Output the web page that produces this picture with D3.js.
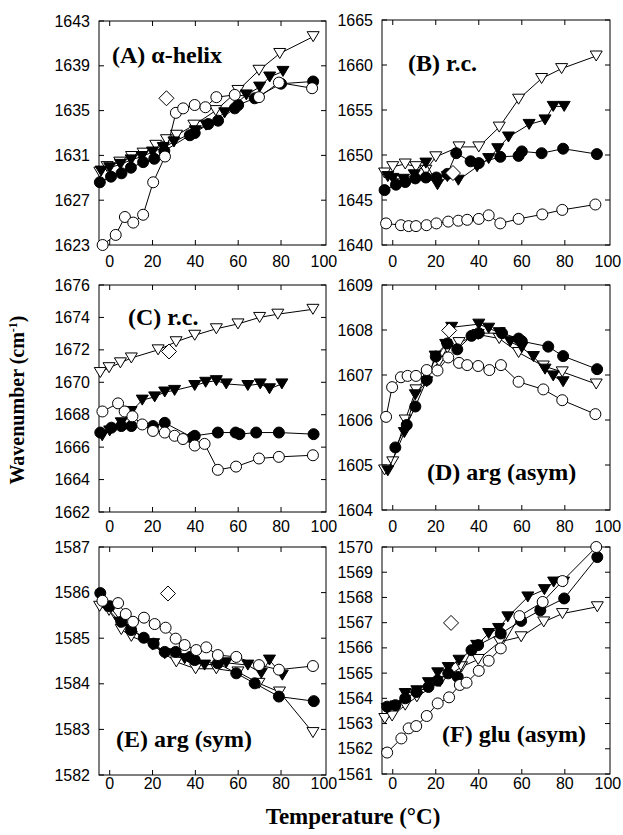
<!DOCTYPE html>
<html lang="en">
<head>
<meta charset="utf-8">
<title>Wavenumber vs Temperature</title>
<script src="https://cdn.jsdelivr.net/npm/d3@7"></script>
<style>
  body { margin: 0; background: #fff; }
  svg { display: block; }
</style>
</head>
<body>
<div id="chart"></div>
<script>
// ---- data: [temperature (°C), wavenumber (cm-1)] ----
var temps = [0, 20, 40, 60, 80, 100];

// (A) alpha-helix
var aOpenTri = [[-4.6,1629.5],[-1.2,1630.0],[4.7,1630.4],[10.2,1630.9],[15.6,1631.2],[21.5,1631.9],[26.5,1632.4],[31.2,1632.8],[39.3,1633.7],[49.5,1635.0],[59.9,1636.8],[69.7,1638.6],[79.4,1640.1],[95,1641.6]];
var aFilledTri = [[-4,1629.6],[0,1629.9],[5,1630.2],[10,1630.6],[15,1630.9],[20,1631.3],[25,1631.7],[30,1632.2],[40,1633.2],[45,1633.7],[53.7,1634.8],[63.8,1636.4],[70,1637.1],[74.7,1638.0],[80.9,1638.5]];
var aFilledCircle = [[-4.6,1628.6],[0.6,1629.1],[5.5,1629.4],[9.9,1629.9],[15.6,1630.4],[20.8,1630.7],[25.5,1631.4],[37.4,1632.8],[39.7,1633.0],[46,1633.8],[50.6,1634.1],[58.4,1635.2],[60,1635.5],[67.7,1636.1],[80,1637.4],[95,1637.6]];
var aOpenCircle = [[-3.3,1623.0],[2.8,1623.9],[7.1,1625.5],[11,1625.0],[15.6,1625.7],[20.3,1628.6],[25.8,1630.9],[30.9,1634.8],[34.3,1635.2],[39.7,1635.5],[44.7,1635.3],[49.8,1636.2],[58.4,1636.4],[69.7,1636.2],[79,1637.5],[94.5,1637.0]];
var aDiamond = [[26.5,1636.1]];

// (B) r.c.
var bOpenTri = [[-3.8,1648.0],[0,1648.7],[5.8,1649.0],[10.8,1648.7],[15.4,1648.3],[20,1649.8],[30.8,1650.9],[40,1650.9],[49.5,1653.1],[58.5,1656.2],[69.2,1658.5],[78.5,1659.6],[94.6,1661.0]];
var bFilledTri = [[-2.3,1647.6],[0,1647.4],[5,1647.3],[10,1647.8],[15.4,1649.1],[20.8,1646.7],[25.4,1647.6],[30.5,1647.2],[39.2,1648.7],[44.6,1649.6],[48.8,1650.7],[53.8,1652.0],[63.4,1653.4],[70.8,1653.9],[74.6,1655.4],[79.7,1655.4]];
var bFilledCircle = [[-3.8,1646.1],[1.5,1646.7],[5.8,1647.0],[10.5,1647.4],[15.4,1647.5],[20.3,1647.5],[25.4,1647.9],[29.5,1650.2],[36.2,1649.3],[40,1649.1],[50,1649.8],[58.5,1649.9],[60,1650.4],[69.2,1650.2],[79.2,1650.7],[94.9,1650.1]];
var bOpenCircle = [[-3.1,1642.4],[3.8,1642.2],[7.4,1642.1],[10.8,1642.1],[15.7,1642.2],[20.3,1642.4],[25.8,1642.6],[30.5,1642.7],[34.6,1642.8],[40,1642.9],[44.6,1643.3],[50,1642.4],[58.5,1642.9],[69.5,1643.4],[78.8,1643.9],[94.2,1644.5]];
var bDiamond = [[28,1648.0]];

// (C) r.c.
var cOpenTri = [[-4.4,1670.6],[-0.3,1670.9],[5,1671.2],[10.1,1671.5],[22.6,1672.0],[31,1672.5],[39.7,1672.9],[49.8,1673.3],[59.9,1673.6],[70,1674.0],[78.5,1674.2],[94.9,1674.5]];
var cFilledTri = [[-3.5,1666.7],[0,1667.0],[5.4,1667.5],[10,1668.2],[15.2,1668.9],[21,1669.1],[25.7,1669.4],[30.3,1669.5],[39.7,1669.8],[44.8,1670.0],[49.8,1670.1],[54.4,1669.9],[64.5,1669.8],[70.3,1669.9],[74.6,1669.6],[80.4,1669.9]];
var cFilledCircle = [[-4.4,1666.9],[0.8,1667.2],[5.4,1667.3],[10.1,1667.3],[20.2,1667.3],[25.7,1667.5],[38.6,1666.6],[39.7,1666.7],[50.5,1666.9],[58.8,1666.9],[60.6,1666.8],[68.4,1666.9],[79,1666.9],[95.2,1666.8]];
var cOpenCircle = [[-3.4,1668.2],[3.9,1668.7],[7,1668.2],[10.6,1667.9],[15.2,1667.4],[20.2,1667.0],[25.7,1666.9],[30.3,1666.7],[34.2,1666.5],[39.7,1666.1],[44.3,1666.2],[50.5,1664.6],[59,1664.8],[69.7,1665.3],[79,1665.4],[94.9,1665.5]];
var cDiamond = [[27.7,1671.9]];

// (D) arg (asym)
var dOpenTri = [[-3.8,1604.89],[0,1605.07],[5.8,1606.0],[10.8,1606.67],[21.5,1607.30],[25.4,1607.60],[30.8,1607.72],[39.7,1607.90],[49.5,1607.81],[58.5,1607.50],[70,1607.20],[78.8,1607.07],[94.6,1606.80]];
var dFilledTri = [[-2.3,1604.87],[5.4,1605.72],[10.5,1606.56],[15.8,1606.85],[19.7,1607.42],[24.6,1607.68],[27.4,1608.06],[40,1608.13],[44.6,1608.04],[49.5,1607.94],[54.6,1607.74],[60,1607.61],[65.4,1607.41],[70.8,1607.13],[74.6,1606.98],[79.2,1606.85]];
var dFilledCircle = [[1.2,1605.39],[6.5,1605.89],[10.5,1606.30],[15.8,1606.89],[20,1607.41],[25.4,1607.70],[30,1607.57],[36.6,1607.87],[40,1607.93],[50.8,1607.93],[58.5,1607.81],[60,1607.75],[72.3,1607.63],[79.2,1607.42],[95,1607.13]];
var dOpenCircle = [[-3.1,1606.07],[-0.3,1606.73],[3.8,1606.95],[6.9,1606.98],[10.8,1606.98],[15.8,1607.11],[20.8,1607.10],[25.8,1607.39],[30.8,1607.27],[34.6,1607.22],[39.7,1607.20],[44.9,1607.11],[50.3,1607.22],[58.5,1606.85],[70,1606.68],[78.8,1606.44],[94.2,1606.13]];
var dDiamond = [[26.2,1607.99]];

// (E) arg (sym)
var eOpenTri = [[-4.7,1585.70],[-0.3,1585.61],[5.4,1585.19],[10.1,1585.04],[20,1584.85],[31.1,1584.48],[40.1,1584.33],[49.8,1584.33],[59.9,1584.26],[69.7,1584.01],[79.3,1583.82],[94.9,1582.93]];
var eFilledTri = [[-1.9,1585.70],[4.7,1585.35],[10,1585.20],[20.5,1584.88],[25.7,1584.66],[35,1584.55],[44.3,1584.41],[54.4,1584.46],[64.5,1584.41],[70.8,1584.23],[74.6,1584.52],[80.6,1584.19]];
var eFilledCircle = [[-4.4,1585.99],[0,1585.70],[5.4,1585.36],[10,1585.18],[15.9,1585.01],[20.5,1584.88],[25.7,1584.70],[30.8,1584.70],[37.6,1584.59],[39.7,1584.52],[50.5,1584.45],[59.1,1584.23],[67.7,1584.01],[79,1583.72],[95.3,1583.62]];
var eOpenCircle = [[-3.4,1585.82],[3.9,1585.77],[7.5,1585.53],[10.9,1585.36],[16,1585.45],[21,1585.31],[26.1,1585.23],[30.8,1584.99],[35,1584.85],[40.4,1584.74],[45.1,1584.80],[50.5,1584.63],[59.1,1584.59],[69.7,1584.41],[79,1584.31],[94.9,1584.39]];
var eDiamond = [[27.2,1585.98]];

// (F) glu (asym)
var fOpenTri = [[-3.7,1563.2],[-0.3,1563.30],[5.8,1563.73],[11.2,1564.06],[22,1564.66],[32,1565.25],[39.7,1565.54],[49.7,1566.24],[59.7,1566.44],[70.2,1567.03],[78.9,1567.36],[95.1,1567.63]];
var fFilledTri = [[-2.6,1563.60],[1.5,1563.7],[5.8,1564.19],[11.2,1564.30],[16.6,1564.62],[20.9,1565.01],[25.8,1565.22],[30.8,1565.51],[39,1566.1],[44.6,1566.57],[49.2,1566.77],[53.5,1567.23],[62.8,1568.02],[70.5,1568.31],[74.8,1568.61],[79.4,1568.61]];
var fFilledCircle = [[-2.6,1563.67],[1.2,1563.73],[5.8,1564.0],[11,1564.25],[16.6,1564.45],[20.9,1564.7],[25.8,1564.99],[30.2,1564.85],[36.6,1565.91],[39.7,1566.11],[50.2,1566.57],[59.7,1567.07],[68.6,1567.49],[79.7,1567.96],[95.1,1569.60]];
var fOpenCircle = [[-2.6,1561.85],[4,1562.41],[7.4,1562.81],[10.9,1562.90],[15.8,1563.30],[20.9,1563.80],[26.2,1564.04],[31.2,1564.53],[34.3,1564.62],[40,1565.09],[44.6,1565.49],[50.2,1565.98],[58.9,1567.26],[69.7,1567.82],[78.9,1568.65],[94.6,1570.0]];
var fDiamond = [[27.1,1566.99]];

// y ranges / ticks per panel
var aTicks = [1623, 1627, 1631, 1635, 1639, 1643];
var bTicks = [1640, 1645, 1650, 1655, 1660, 1665];
var cTicks = [1662, 1664, 1666, 1668, 1670, 1672, 1674, 1676];
var dTicks = [1604, 1605, 1606, 1607, 1608, 1609];
var eTicks = [1582, 1583, 1584, 1585, 1586, 1587];
var fTicks = [1561, 1562, 1563, 1564, 1565, 1566, 1567, 1568, 1569, 1570];

// ---- layout ----
var w = 623, h = 835;
var svg = d3.select("#chart").append("svg").attr("width", w).attr("height", h);

var panels = [
  {title: "(A) \u03b1-helix", x0: 99, x1: 326, y0: 21, y1: 245, ticks: aTicks, lx: 112, ly: 63, tlab: 267,
   s: [aOpenTri, aFilledTri, aFilledCircle, aOpenCircle], dia: aDiamond},
  {title: "(B) r.c.", x0: 382, x1: 610, y0: 20, y1: 245, ticks: bTicks, lx: 408, ly: 71, tlab: 267,
   s: [bOpenTri, bFilledTri, bFilledCircle, bOpenCircle], dia: bDiamond},
  {title: "(C) r.c.", x0: 99, x1: 326, y0: 285, y1: 512, ticks: cTicks, lx: 128, ly: 325, tlab: 532,
   s: [cOpenTri, cFilledTri, cFilledCircle, cOpenCircle], dia: cDiamond},
  {title: "(D) arg (asym)", x0: 382, x1: 610, y0: 285, y1: 510, ticks: dTicks, lx: 427, ly: 480, tlab: 532,
   s: [dOpenTri, dFilledTri, dFilledCircle, dOpenCircle], dia: dDiamond},
  {title: "(E) arg (sym)", x0: 99, x1: 326, y0: 547, y1: 775, ticks: eTicks, lx: 116, ly: 747, tlab: 789,
   s: [eOpenTri, eFilledTri, eFilledCircle, eOpenCircle], dia: eDiamond},
  {title: "(F) glu (asym)", x0: 382, x1: 610, y0: 547, y1: 774, ticks: fTicks, lx: 442, ly: 742, tlab: 789,
   s: [fOpenTri, fFilledTri, fFilledCircle, fOpenCircle], dia: fDiamond}
];

// marker styles, same order as the s arrays
var styles = [
  {shape: "tri", fill: "#fff"},
  {shape: "tri", fill: "#000"},
  {shape: "circle", fill: "#000"},
  {shape: "circle", fill: "#fff"}
];

var triPath = "M-6,-5L6,-5L0,5Z";
var diaPath = "M0,-7.5L7.5,0L0,7.5L-7.5,0Z";

panels.forEach(function(p) {
  var x = d3.scaleLinear().domain([-5, 101]).range([p.x0, p.x1]);
  var y = d3.scaleLinear().domain(d3.extent(p.ticks)).range([p.y1, p.y0]);
  var g = svg.append("g");

  // frame
  g.append("rect")
    .attr("x", p.x0).attr("y", p.y0)
    .attr("width", p.x1 - p.x0).attr("height", p.y1 - p.y0)
    .attr("fill", "none").attr("stroke", "#000").attr("stroke-width", 1);

  // inward ticks on all four sides
  var xt = temps.filter(function(t) { return t < 100; });
  g.selectAll(".xtb").data(xt).enter().append("line")
    .attr("x1", function(d) { return x(d); }).attr("x2", function(d) { return x(d); })
    .attr("y1", p.y1).attr("y2", p.y1 - 5).attr("stroke", "#000");
  g.selectAll(".xtt").data(xt).enter().append("line")
    .attr("x1", function(d) { return x(d); }).attr("x2", function(d) { return x(d); })
    .attr("y1", p.y0).attr("y2", p.y0 + 5).attr("stroke", "#000");
  g.selectAll(".ytl").data(p.ticks).enter().append("line")
    .attr("x1", p.x0).attr("x2", p.x0 + 5)
    .attr("y1", function(d) { return y(d); }).attr("y2", function(d) { return y(d); })
    .attr("stroke", "#000");
  g.selectAll(".ytr").data(p.ticks).enter().append("line")
    .attr("x1", p.x1).attr("x2", p.x1 - 5)
    .attr("y1", function(d) { return y(d); }).attr("y2", function(d) { return y(d); })
    .attr("stroke", "#000");

  // tick labels
  g.selectAll(".xl").data(temps).enter().append("text")
    .attr("x", function(d) { return x(d); })
    .attr("y", p.tlab)
    .attr("text-anchor", "middle")
    .attr("font-family", "Liberation Sans, Arial, sans-serif")
    .attr("font-size", 16)
    .text(function(d) { return d; });
  g.selectAll(".yl").data(p.ticks).enter().append("text")
    .attr("x", p.x0 - 9)
    .attr("y", function(d) { return y(d) + 5.5; })
    .attr("text-anchor", "end")
    .attr("font-family", "Liberation Sans, Arial, sans-serif")
    .attr("font-size", 16)
    .text(function(d) { return d; });

  // series
  var line = d3.line().x(function(d) { return x(d[0]); }).y(function(d) { return y(d[1]); });
  p.s.forEach(function(data, i) {
    var st = styles[i];
    g.append("path").attr("d", line(data))
      .attr("fill", "none").attr("stroke", "#000").attr("stroke-width", 1);
    var m = g.selectAll(null).data(data).enter();
    if (st.shape === "circle") {
      m.append("circle")
        .attr("cx", function(d) { return x(d[0]); })
        .attr("cy", function(d) { return y(d[1]); })
        .attr("r", 5.5)
        .attr("fill", st.fill).attr("stroke", "#000").attr("stroke-width", 1);
    } else {
      m.append("path")
        .attr("d", triPath)
        .attr("transform", function(d) { return "translate(" + x(d[0]) + "," + y(d[1]) + ")"; })
        .attr("fill", st.fill).attr("stroke", "#000").attr("stroke-width", 1);
    }
  });

  // diamond
  g.selectAll(null).data(p.dia).enter().append("path")
    .attr("d", diaPath)
    .attr("transform", function(d) { return "translate(" + x(d[0]) + "," + y(d[1]) + ")"; })
    .attr("fill", "#fff").attr("stroke", "#000").attr("stroke-width", 1);

  // panel title
  g.append("text")
    .attr("x", p.lx).attr("y", p.ly)
    .attr("font-family", "Liberation Serif, Times New Roman, serif")
    .attr("font-weight", "bold")
    .attr("font-size", 24)
    .text(p.title);
});

// axis titles
svg.append("text")
  .attr("transform", "translate(24,400) rotate(-90)")
  .attr("text-anchor", "middle")
  .attr("font-family", "Liberation Serif, Times New Roman, serif")
  .attr("font-weight", "bold")
  .attr("font-size", 20)
  .html("Wavenumber (cm<tspan baseline-shift='super' font-size='12'>-1</tspan>)");

svg.append("text")
  .attr("x", 353).attr("y", 824)
  .attr("text-anchor", "middle")
  .attr("font-family", "Liberation Serif, Times New Roman, serif")
  .attr("font-weight", "bold")
  .attr("font-size", 23)
  .text("Temperature (\u00b0C)");
</script>
</body>
</html>
